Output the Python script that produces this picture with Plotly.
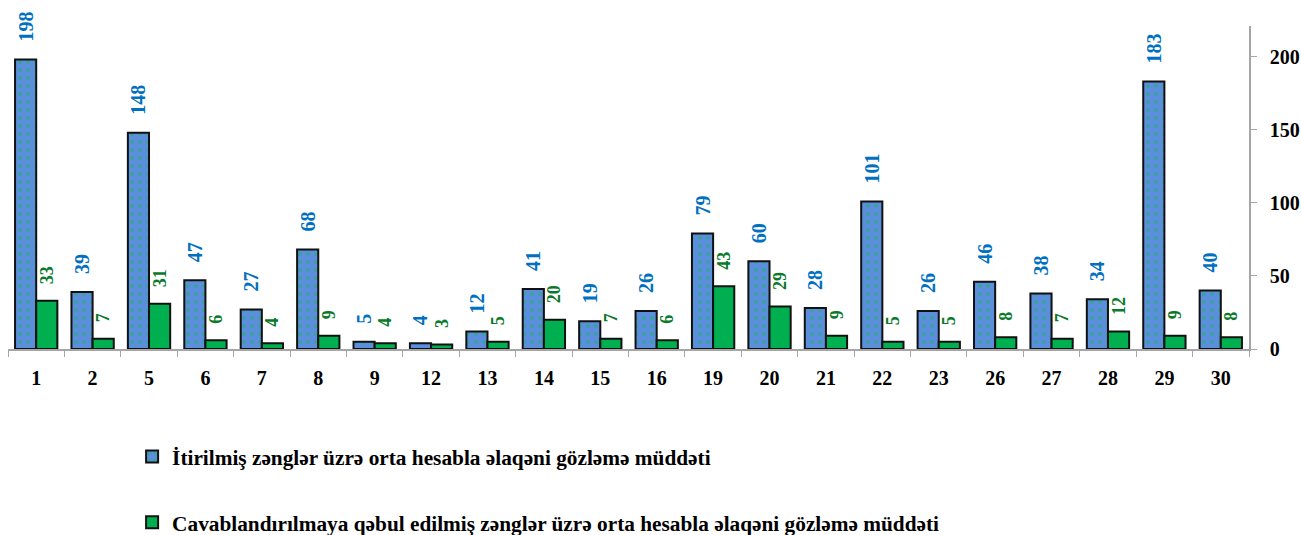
import plotly.graph_objects as go

categories = ["1", "2", "5", "6", "7", "8", "9", "12", "13", "14", "15", "16",
              "19", "20", "21", "22", "23", "26", "27", "28", "29", "30"]
lost_calls = [198, 39, 148, 47, 27, 68, 5, 4, 12, 41, 19, 26, 79, 60, 28, 101, 26, 46, 38, 34, 183, 40]
unanswered_calls = [33, 7, 31, 6, 4, 9, 4, 3, 5, 20, 7, 6, 43, 29, 9, 5, 5, 8, 7, 12, 9, 8]
y_ticks = [0, 50, 100, 150, 200]

name1 = "İtirilmiş zənglər üzrə orta hesabla əlaqəni gözləmə müddəti"
name2 = "Cavablandırılmaya qəbul edilmiş zənglər üzrə orta hesabla əlaqəni gözləmə müddəti"

FONT = "Liberation Serif"
PAD = "\u00a0\u00a0\u00a0"

fig = go.Figure()
fig.add_trace(go.Bar(
    x=categories, y=lost_calls, name=name1, legendgroup="a",
    marker=dict(color="#5B8FDC", line=dict(color="#111111", width=2),
                pattern=dict(shape=".", fgcolor="#1FAF6A", bgcolor="#5B8FDC", size=8, solidity=0.22)),
    text=[PAD + str(v) for v in lost_calls], textposition="outside", textangle=-90,
    constraintext="none", cliponaxis=False,
    textfont=dict(family=FONT, size=20, color="#0070C0", weight="bold"),
))
fig.add_trace(go.Bar(
    x=categories, y=unanswered_calls, name=name2, legendgroup="b",
    marker=dict(color="#00B050", line=dict(color="#111111", width=2)),
    text=[PAD + str(v) for v in unanswered_calls], textposition="outside", textangle=-90,
    constraintext="none", cliponaxis=False,
    textfont=dict(family=FONT, size=18, color="#0A7A2A", weight="bold"),
))

fig.update_layout(
    width=1301, height=535,
    paper_bgcolor="white", plot_bgcolor="white",
    margin=dict(l=8, r=52, t=26, b=186, autoexpand=False),
    barmode="group", bargap=0.25, bargroupgap=0,
    font=dict(family=FONT, color="black"),
    showlegend=True,
    xaxis=dict(type="category", showline=True, linecolor="#A6A6A6", linewidth=1.5,
               ticks="outside", tickson="boundaries", ticklen=6, tickcolor="#A6A6A6",
               ticklabelstandoff=10,
               tickfont=dict(family=FONT, size=20, color="black", weight="bold"),
               showgrid=False),
    yaxis=dict(side="right", range=[0, 221], tickvals=y_ticks, showline=True,
               linecolor="#A6A6A6", linewidth=1.5, ticks="outside", ticklen=6,
               tickcolor="#A6A6A6", showgrid=False, zeroline=False,
               ticklabelstandoff=9,
               tickfont=dict(family=FONT, size=20, color="black", weight="bold")),
    legend=dict(x=0.1, y=-0.27, xanchor="left", yanchor="top",
                orientation="v", traceorder="grouped", tracegroupgap=35,
                itemwidth=30,
                font=dict(family=FONT, size=21.3, color="black", weight="bold"),
                bgcolor="rgba(0,0,0,0)"),
)

fig.write_html("out.html", config={"displayModeBar": False},
               post_script="document.body.style.margin='0';document.body.style.overflow='hidden';")
